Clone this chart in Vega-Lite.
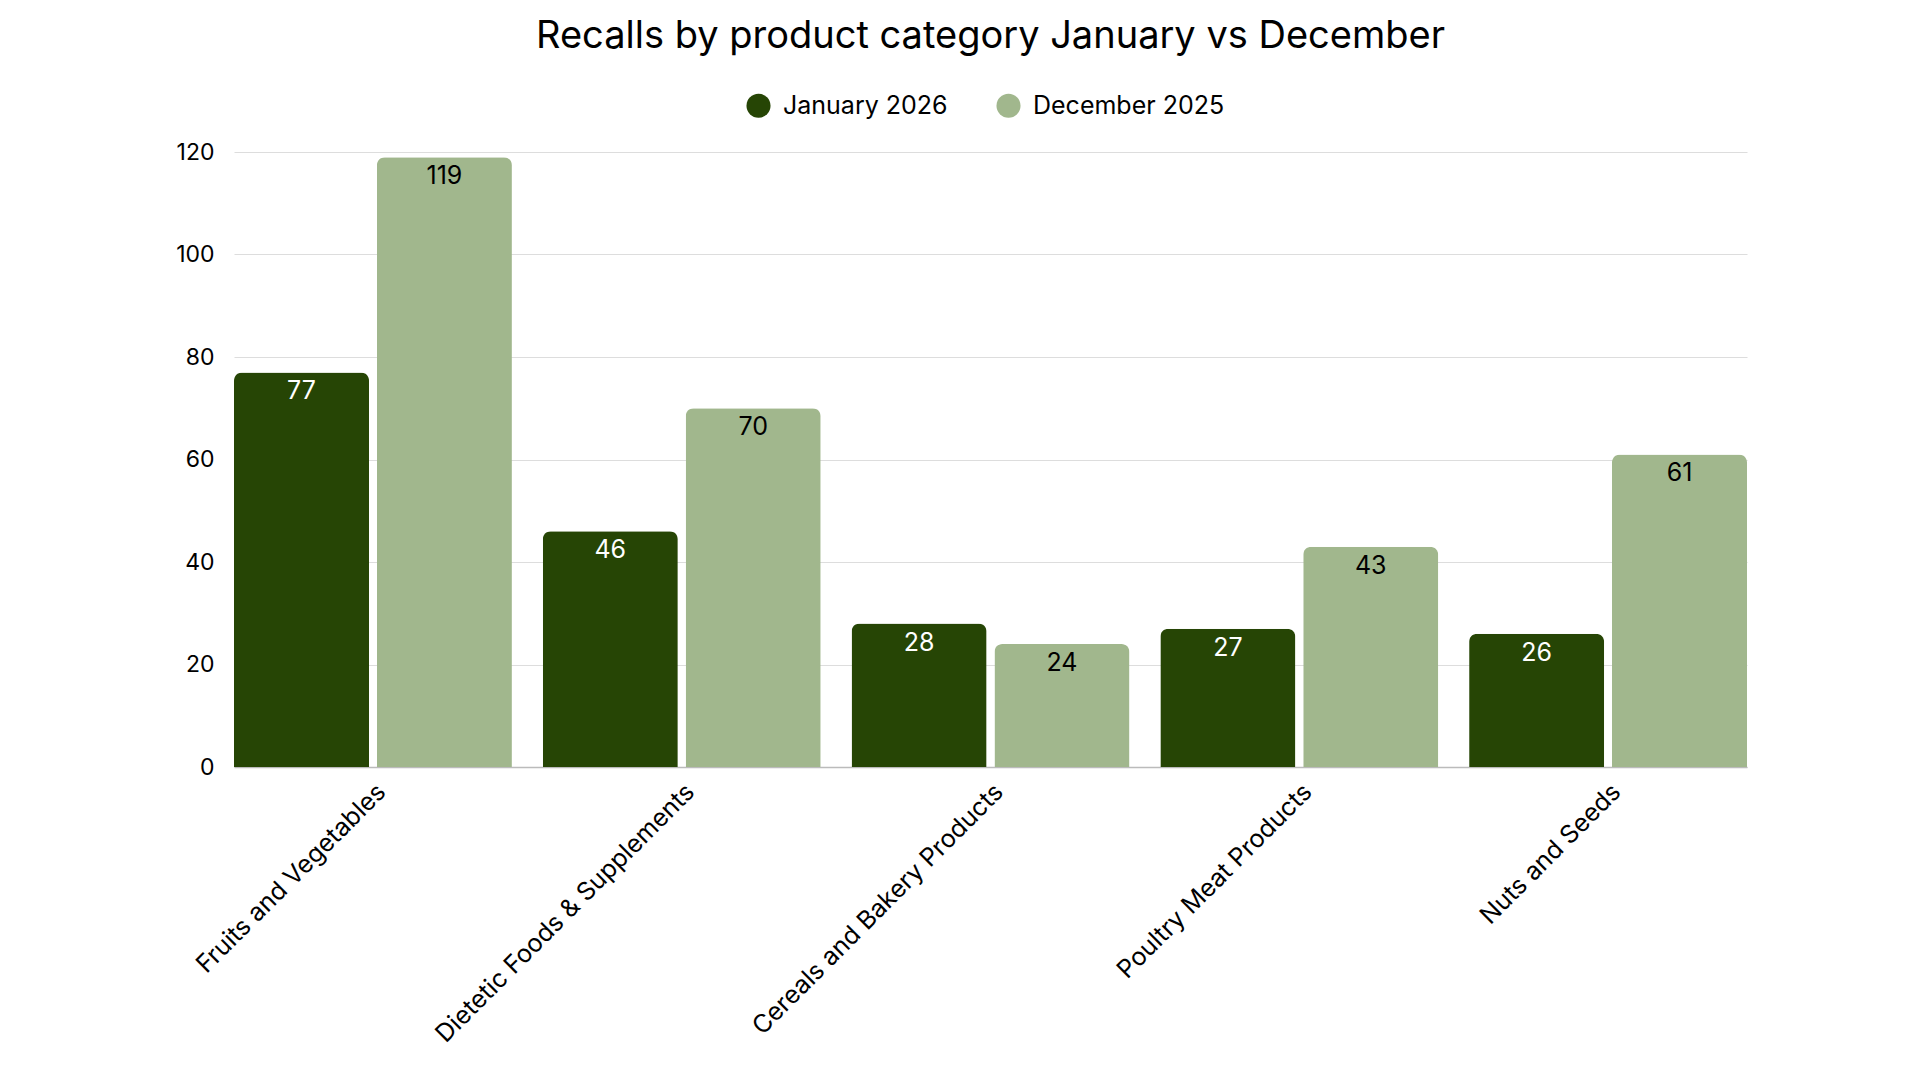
{
  "$schema": "https://vega.github.io/schema/vega-lite/v6.json",
  "autosize": {"type": "none"},
  "width": 1513,
  "height": 615,
  "padding": {"left": 234, "top": 152, "right": 173, "bottom": 313},
  "background": "white",
  "config": {
    "font": "Inter",
    "view": {"stroke": null}
  },
  "title": {
    "text": "Recalls by product category January vs December",
    "font": "Inter",
    "fontSize": 38,
    "fontWeight": "normal",
    "color": "#000000",
    "anchor": "middle",
    "offset": 37
  },
  "data": {
    "values": [
      {"category": "Fruits and Vegetables", "period": "January 2026", "value": 77},
      {"category": "Fruits and Vegetables", "period": "December 2025", "value": 119},
      {"category": "Dietetic Foods & Supplements", "period": "January 2026", "value": 46},
      {"category": "Dietetic Foods & Supplements", "period": "December 2025", "value": 70},
      {"category": "Cereals and Bakery Products", "period": "January 2026", "value": 28},
      {"category": "Cereals and Bakery Products", "period": "December 2025", "value": 24},
      {"category": "Poultry Meat Products", "period": "January 2026", "value": 27},
      {"category": "Poultry Meat Products", "period": "December 2025", "value": 43},
      {"category": "Nuts and Seeds", "period": "January 2026", "value": 26},
      {"category": "Nuts and Seeds", "period": "December 2025", "value": 61}
    ]
  },
  "encoding": {
    "x": {
      "field": "category",
      "type": "nominal",
      "sort": null,
      "scale": {"paddingInner": 0.1, "paddingOuter": 0},
      "axis": {
        "title": null,
        "labelAngle": -45,
        "labelFontSize": 25,
        "labelColor": "#000000",
        "labelPadding": 12,
        "ticks": false,
        "domain": true,
        "domainColor": "#bbbbbb",
        "domainWidth": 1.5,
        "labelLimit": 600
      }
    },
    "xOffset": {
      "field": "period",
      "type": "nominal",
      "sort": ["January 2026", "December 2025"],
      "scale": {"paddingInner": 0.055, "paddingOuter": 0}
    },
    "y": {
      "field": "value",
      "type": "quantitative",
      "scale": {"domain": [0, 120]},
      "axis": {
        "title": null,
        "values": [0, 20, 40, 60, 80, 100, 120],
        "labelFontSize": 23,
        "labelColor": "#000000",
        "labelPadding": 20,
        "ticks": false,
        "domain": false,
        "grid": true,
        "gridColor": "#dddddd",
        "gridWidth": 1
      }
    }
  },
  "layer": [
    {
      "mark": {"type": "bar", "cornerRadiusTopLeft": 8, "cornerRadiusTopRight": 8},
      "encoding": {
        "color": {
          "field": "period",
          "type": "nominal",
          "sort": ["January 2026", "December 2025"],
          "scale": {"domain": ["January 2026", "December 2025"], "range": ["#264505", "#a1b78d"]},
          "legend": {
            "title": null,
            "orient": "none",
            "legendX": 512,
            "legendY": -59,
            "direction": "horizontal",
            "symbolType": "circle",
            "symbolSize": 580,
            "symbolStrokeWidth": 0,
            "labelFontSize": 25,
            "labelColor": "#000000",
            "labelLimit": 400,
            "columnPadding": 48,
            "labelOffset": 12
          }
        }
      }
    },
    {
      "mark": {"type": "text", "baseline": "middle", "dy": 19, "fontSize": 25},
      "encoding": {
        "text": {"field": "value", "type": "quantitative"},
        "fill": {
          "condition": {"test": "datum.period === 'January 2026'", "value": "#ffffff"},
          "value": "#000000"
        }
      }
    }
  ]
}
